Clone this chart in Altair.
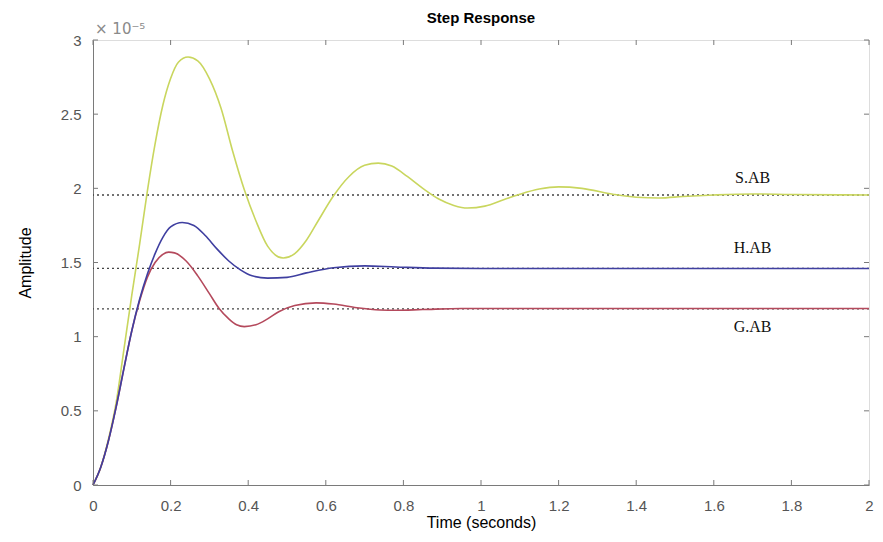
import altair as alt
import pandas as pd

# ---- data (amplitude in units of 1e-5) ----
t_s = [0, 0.02, 0.04, 0.06, 0.08, 0.10, 0.12, 0.14, 0.16, 0.18, 0.20, 0.22, 0.245, 0.27, 0.30, 0.33,
       0.36, 0.39, 0.42, 0.45, 0.49, 0.52, 0.55, 0.58, 0.62, 0.66, 0.70, 0.735, 0.77, 0.81, 0.85,
       0.89, 0.93, 0.965, 1.01, 1.06, 1.10, 1.15, 1.20, 1.26, 1.34, 1.40, 1.46, 1.52, 1.6, 1.7, 1.8, 2.0]
y_s = [0, 0.12, 0.31, 0.56, 0.92, 1.28, 1.62, 1.98, 2.30, 2.56, 2.74, 2.85, 2.885, 2.86, 2.74, 2.54,
       2.25, 1.99, 1.78, 1.61, 1.53, 1.56, 1.65, 1.78, 1.95, 2.08, 2.155, 2.17, 2.15, 2.08, 2.00,
       1.93, 1.885, 1.867, 1.88, 1.925, 1.96, 1.995, 2.01, 2.0, 1.96, 1.94, 1.935, 1.945, 1.955, 1.962, 1.958, 1.955]

t_h = [0, 0.02, 0.04, 0.06, 0.08, 0.10, 0.12, 0.14, 0.16, 0.18, 0.20, 0.23, 0.26, 0.29, 0.32, 0.35,
       0.38, 0.41, 0.45, 0.50, 0.55, 0.62, 0.70, 0.78, 0.88, 1.0, 1.3, 2.0]
y_h = [0, 0.12, 0.30, 0.53, 0.79, 1.04, 1.25, 1.42, 1.56, 1.67, 1.74, 1.77, 1.75, 1.68, 1.59, 1.51,
       1.45, 1.41, 1.395, 1.40, 1.43, 1.465, 1.477, 1.47, 1.462, 1.46, 1.46, 1.46]

t_g = [0, 0.02, 0.04, 0.06, 0.08, 0.10, 0.12, 0.14, 0.16, 0.18, 0.195, 0.21, 0.24, 0.27, 0.30, 0.325,
       0.35, 0.37, 0.39, 0.42, 0.45, 0.48, 0.52, 0.575, 0.62, 0.68, 0.74, 0.78, 0.85, 0.95, 1.1, 2.0]
y_g = [0, 0.12, 0.30, 0.53, 0.79, 1.04, 1.24, 1.40, 1.50, 1.555, 1.57, 1.565, 1.51, 1.41, 1.29, 1.19,
       1.12, 1.08, 1.068, 1.08, 1.12, 1.17, 1.21, 1.228, 1.22, 1.195, 1.18, 1.178, 1.183, 1.19, 1.19, 1.19]

names = ["S.AB", "H.AB", "G.AB"]
colors = ["#c9d65e", "#3f3fa0", "#b4495c"]
finals = [1.955, 1.46, 1.187]
label_t = [1.70, 1.70, 1.70]
label_y = [2.07, 1.60, 1.065]

x_ticks = [0, 0.2, 0.4, 0.6, 0.8, 1.0, 1.2, 1.4, 1.6, 1.8, 2.0]
y_ticks = [0, 0.5, 1.0, 1.5, 2.0, 2.5, 3.0]

# ---- tables ----
curves = pd.concat([
    pd.DataFrame({"t": t_s, "y": y_s, "sys": "S.AB", "order": 0}),
    pd.DataFrame({"t": t_g, "y": y_g, "sys": "G.AB", "order": 1}),
    pd.DataFrame({"t": t_h, "y": y_h, "sys": "H.AB", "order": 2}),
])
finals_df = pd.DataFrame({"y": finals})
labels_df = pd.DataFrame({"t": label_t, "y": label_y, "name": names})
xt_df = pd.DataFrame({"v": x_ticks})
yt_df = pd.DataFrame({"v": y_ticks})

W, H = 776, 445
axis_gray = "#7a7a7a"
label_gray = "#555555"

xscale = alt.Scale(domain=[0, 2], nice=False, zero=False)
yscale = alt.Scale(domain=[0, 3], nice=False)

xaxis = alt.Axis(values=x_ticks, format="~g", title="Time (seconds)", ticks=False, grid=False,
                 domainColor=axis_gray, labelColor=label_gray, labelFontSize=15, labelPadding=13,
                 labelFont="Liberation Sans", titleFont="Liberation Sans", titleFontSize=16,
                 titleFontWeight="normal", titleColor="black", titlePadding=1, labelFlush=False)
yaxis = alt.Axis(values=y_ticks, format="~g", title="Amplitude", ticks=False, grid=False,
                 domainColor=axis_gray, labelColor=label_gray, labelFontSize=15, labelPadding=12,
                 labelFont="Liberation Sans", titleFont="Liberation Sans", titleFontSize=16,
                 titleFontWeight="normal", titleColor="black", titlePadding=27, labelFlush=False)

lines = alt.Chart(curves).mark_line(interpolate="monotone", strokeWidth=1.6).encode(
    x=alt.X("t:Q", scale=xscale, axis=xaxis),
    y=alt.Y("y:Q", scale=yscale, axis=yaxis),
    color=alt.Color("sys:N", scale=alt.Scale(domain=names, range=colors), legend=None),
    detail="sys:N",
    order="order:Q",
)

dotted = alt.Chart(finals_df).mark_rule(strokeDash=[2, 3], color="#444444", strokeWidth=1.3).encode(
    y=alt.Y("y:Q", scale=yscale)
)

labels = alt.Chart(labels_df).mark_text(font="Liberation Serif", fontSize=16, color="#111111").encode(
    x=alt.X("t:Q", scale=xscale), y=alt.Y("y:Q", scale=yscale), text="name:N"
)

exp_df = pd.DataFrame({"t": [0.0], "y": [3.0], "txt": ["× 10⁻⁵"]})
exponent = alt.Chart(exp_df).mark_text(align="left", baseline="bottom", dx=2, dy=-3,
                                       fontSize=15, font="DejaVu Sans", color="#8a8a8a").encode(
    x=alt.X("t:Q", scale=xscale), y=alt.Y("y:Q", scale=yscale), text="txt:N"
)

title_df = pd.DataFrame({"t": [1.0], "y": [3.0], "txt": ["Step Response"]})
title = alt.Chart(title_df).mark_text(baseline="middle", dy=-22, fontSize=15, fontWeight="bold",
                                      font="Liberation Sans", color="black").encode(
    x=alt.X("t:Q", scale=xscale), y=alt.Y("y:Q", scale=yscale), text="txt:N"
)

tick_len = 5
xt_bot = alt.Chart(xt_df).mark_rule(color=axis_gray).encode(
    x=alt.X("v:Q", scale=xscale), y=alt.value(H), y2=alt.value(H - tick_len))
xt_top = alt.Chart(xt_df).mark_rule(color=axis_gray).encode(
    x=alt.X("v:Q", scale=xscale), y=alt.value(0), y2=alt.value(tick_len))
yt_left = alt.Chart(yt_df).mark_rule(color=axis_gray).encode(
    y=alt.Y("v:Q", scale=yscale), x=alt.value(0), x2=alt.value(tick_len))
yt_right = alt.Chart(yt_df).mark_rule(color=axis_gray).encode(
    y=alt.Y("v:Q", scale=yscale), x=alt.value(W), x2=alt.value(W - tick_len))

chart = alt.layer(dotted, lines, labels, exponent, title, xt_bot, xt_top, yt_left, yt_right).properties(
    width=W, height=H,
    autosize=alt.AutoSizeParams(type="none"),
    padding={"left": 85, "top": 32, "right": 6, "bottom": 46},
).configure_view(stroke=axis_gray, strokeWidth=1).configure(background="white")

chart.save("out.html", embed_options={"renderer": "svg", "actions": False})
